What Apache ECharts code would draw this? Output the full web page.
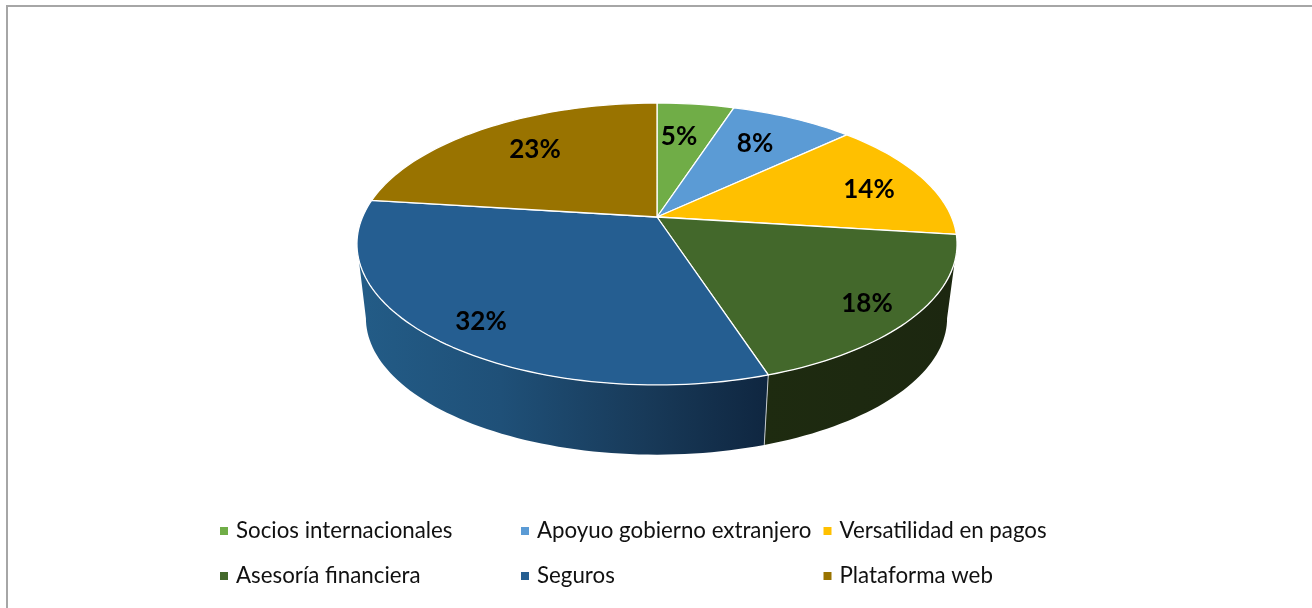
<!DOCTYPE html>
<html>
<head>
<meta charset="utf-8">
<style>html,body{margin:0;padding:0;background:#fff}#chart{width:1312px;height:608px}</style>
<script src="https://cdn.jsdelivr.net/npm/echarts@6/dist/echarts.min.js"></script>
</head>
<body>
<div id="chart"></div>
<script>
const categories = ['Socios internacionales','Apoyuo gobierno extranjero','Versatilidad en pagos','Asesoría financiera','Seguros','Plataforma web'];
const percentages = [5, 8, 14, 18, 32, 23];

// appearance and layout
const topColors = ['#70ad47','#5b9bd5','#ffc000','#43682b','#255e91','#997300'];
const sideStops = [null,null,null,
  [[0,'#1e2b10'],[1,'#1c2710']],
  [[0,'#235c87'],[0.35,'#1f5078'],[0.7,'#183a59'],[1,'#0f2640']],
  null];
const labelOffsets = [[22,-80],[98,-73],[212,-27],[210,87],[-176,105],[-122,-67]];
const legendSlots = [[220,519],[521,519],[823.5,519],[220,564],[521,564],[823.5,564]];
const P = {cx:657, cy:217, a:294.5, b:135.8, k:0.1915};
const Q = {cx:656.5, cy:292, a:285.2, b:131.5, k:0.1915};
const FONT = 'Lato, Carlito, sans-serif';

const total = percentages.reduce((s,v)=>s+v,0);
const starts = [];
percentages.reduce((s,v,i)=>{starts[i]=s;return s+v;},0);

function project(m, deg){
  const t = deg*Math.PI/180, X = Math.sin(t), Y = -Math.cos(t), w = 1 - m.k*Y;
  return [m.cx + m.a*X/w, m.cy + m.b*Y/w];
}
function arc(m, from, to){
  const n = Math.max(2, Math.ceil(Math.abs(to-from)/1.5)), pts = [];
  for(let i=0;i<=n;i++) pts.push(project(m, from+(to-from)*i/n));
  return pts;
}
const visFrom = 180 - Math.acos(P.k)*180/Math.PI, visTo = 360 - visFrom;

function renderSlice(idx){
  return function(params, api){
    const v = api.value(0);
    const from = starts[idx]/total*360, to = from + v/total*360;
    const children = [];
    const sf = Math.max(from, visFrom), st = Math.min(to, visTo);
    if(st > sf && sideStops[idx]){
      children.push({
        type:'polygon', shape:{points: arc(P,sf,st).concat(arc(Q,st,sf))},
        style:{fill:new echarts.graphic.LinearGradient(0,0,1,0,
          sideStops[idx].map(s=>({offset:s[0],color:s[1]})))}
      });
      if(from >= visFrom && from <= visTo){
        const a = project(P,from), b = project(Q,from);
        children.push({type:'line', z2:3, shape:{x1:a[0],y1:a[1],x2:b[0],y2:b[1]},
          style:{stroke:'#c4c9cc', lineWidth:1}});
      }
    }
    children.push({
      type:'polygon', z2:5,
      shape:{points:[[P.cx,P.cy]].concat(arc(P,from,to))},
      style:{fill:topColors[idx], stroke:'#ffffff', lineWidth:1.3, lineJoin:'round'}
    });
    children.push({
      type:'text', z2:10,
      style:{x:P.cx+labelOffsets[idx][0], y:P.cy+labelOffsets[idx][1], text:v+'%',
        fill:'#000', font:'bold 26px '+FONT, align:'center', verticalAlign:'middle'}
    });
    return {type:'group', children};
  };
}

const series = categories.map((name,i)=>({
  name, type:'custom', coordinateSystem:'none',
  itemStyle:{color:topColors[i]},
  renderItem:renderSlice(i), data:[[percentages[i]]], silent:true, animation:false
}));
const legend = categories.map((name,i)=>({
  data:[{name, icon:'rect'}], left:legendSlots[i][0], top:legendSlots[i][1],
  itemWidth:8, itemHeight:8, selectedMode:false, padding:0,
  textStyle:{fontFamily:FONT, fontSize:22.3, color:'#111', padding:[0,0,0,3], lineHeight:24}
}));

const chart = echarts.init(document.getElementById('chart'), null, {renderer:'canvas'});
chart.setOption({
  animation:false, backgroundColor:'#fff', legend, series,
  graphic:[{type:'rect', silent:true, shape:{x:7,y:6,width:1400,height:700},
    style:{fill:'none', stroke:'#a6a6a6', lineWidth:2}}]
});
</script>
</body>
</html>
